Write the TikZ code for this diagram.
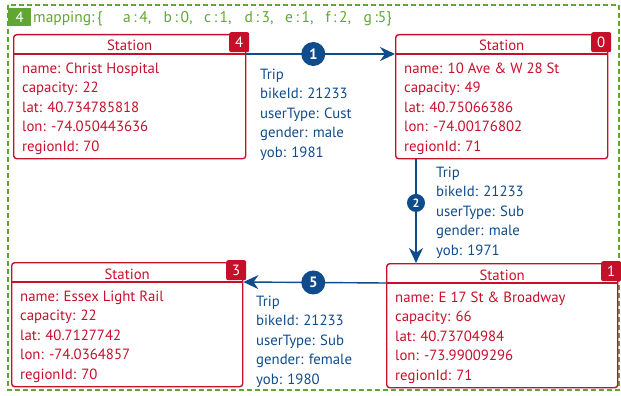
\documentclass[tikz,border=0pt]{standalone}
\usepackage{fontspec}
\setmainfont{PT Sans}
\usetikzlibrary{arrows.meta,positioning,calc}

\definecolor{stred}{RGB}{198,16,42}
\definecolor{tripblue}{RGB}{16,76,140}
\definecolor{mapgreen}{RGB}{98,166,50}

\begin{document}
\begin{tikzpicture}[
  x=1pt, y=-1pt,
  >=Stealth,
  font=\fontsize{14.8}{19.5}\selectfont,
  stbox/.style={draw=stred, line width=1.4pt, rounded corners=3pt, inner sep=0pt, minimum height=124pt},
  badge/.style={fill=stred, text=white, rounded corners=2pt, minimum size=20pt, inner sep=0pt},
  stinfo/.style={text=stred, align=left, inner sep=0pt, anchor=base west},
  trip/.style={draw=tripblue, line width=1.4pt, -{Stealth[length=15pt,width=14pt]}},
  tripno/.style={circle, fill=tripblue, text=white, inner sep=0pt, minimum size=24pt, font=\fontsize{15}{15}\selectfont\bfseries},
  tripinfo/.style={text=tripblue, align=left, inner sep=0pt, anchor=base west},
  pair/.style={},
]
\useasboundingbox (0,0) rectangle (621,396);

% Mapping frame
\draw[mapgreen, line width=1.3pt, dash pattern=on 5pt off 3pt] (8,5) rectangle (619,390);
\node[fill=mapgreen, text=white, minimum width=23pt, minimum height=18pt, inner sep=0pt, anchor=north west] (mapno) at (8,8) {4};
\node[text=mapgreen, inner sep=0pt, anchor=base west, font=\fontsize{15.5}{19.5}\selectfont] (maptext) at (33,23)
  {\makebox[90pt][l]{mapping:\,\{}\makebox[40.5pt][l]{a\,:\,4,}\makebox[40.5pt][l]{b\,:\,0,}\makebox[40.5pt][l]{c\,:\,1,}\makebox[40.5pt][l]{d\,:\,3,}\makebox[40.5pt][l]{e\,:\,1,}\makebox[38pt][l]{f\,:\,2,}g\,:5\}};

% Stations (multi-line nodes sit on the baseline of their last line)
\foreach \id/\x/\y/\w/\nm/\capa/\lat/\lon/\rid in {
  4/13/34/232/Christ Hospital/22/40.734785818/-74.050443636/70,
  0/395/34/212/10 Ave \& W 28 St/49/40.75066386/-74.00176802/71,
  3/11/262/231/Essex Light Rail/22/40.7127742/-74.0364857/70,
  1/386/263/231/E 17 St \& Broadway/66/40.73704984/-73.99009296/71} {
  \node[stbox, minimum width=\w pt, anchor=north west] (st\id) at (\x,\y) {};
  \coordinate (st\id-hw) at ($(st\id.north west)+(0,20)$);
  \coordinate (st\id-he) at ($(st\id.north east)+(0,20)$);
  \draw[stred, line width=1.2pt] (st\id-hw) -- (st\id-he);
  \node[text=stred, inner sep=0pt, anchor=base] (st\id-title) at ($(st\id.north)+(0,17)$) {Station};
  \node[badge, anchor=north east] (st\id-badge) at ($(st\id.north east)+(3,-2)$) {\id};
  \node[stinfo] (st\id-info) at ($(st\id.north west)+(9,117)$)
    {name: \nm\\capacity: \capa\\lat: \lat\\lon: \lon\\regionId: \rid};
}

% Trips
\draw[trip] (st4-he) -- node[tripno, pos=0.45] (no1) {1} (st0-hw);
\draw[trip] ([xshift=21pt]st0.south west) -- node[tripno, pos=0.42, minimum size=18pt, font=\fontsize{12}{12}\selectfont\bfseries] (no2) {2} ([xshift=21pt]st0.south west |- st1.north);
\draw[trip] (st1-hw) -- node[tripno, pos=0.51] (no5) {5} (st3-he);

\node[tripinfo] (trip1) at (260,157) {Trip\\bikeId: 21233\\userType: Cust\\gender: male\\yob: 1981};
\node[tripinfo] (trip2) at (436,255) {Trip\\bikeId: 21233\\userType: Sub\\gender: male\\yob: 1971};
\node[tripinfo] (trip5) at (256,384) {Trip\\bikeId: 21233\\userType: Sub\\gender: female\\yob: 1980};
\end{tikzpicture}
\end{document}
